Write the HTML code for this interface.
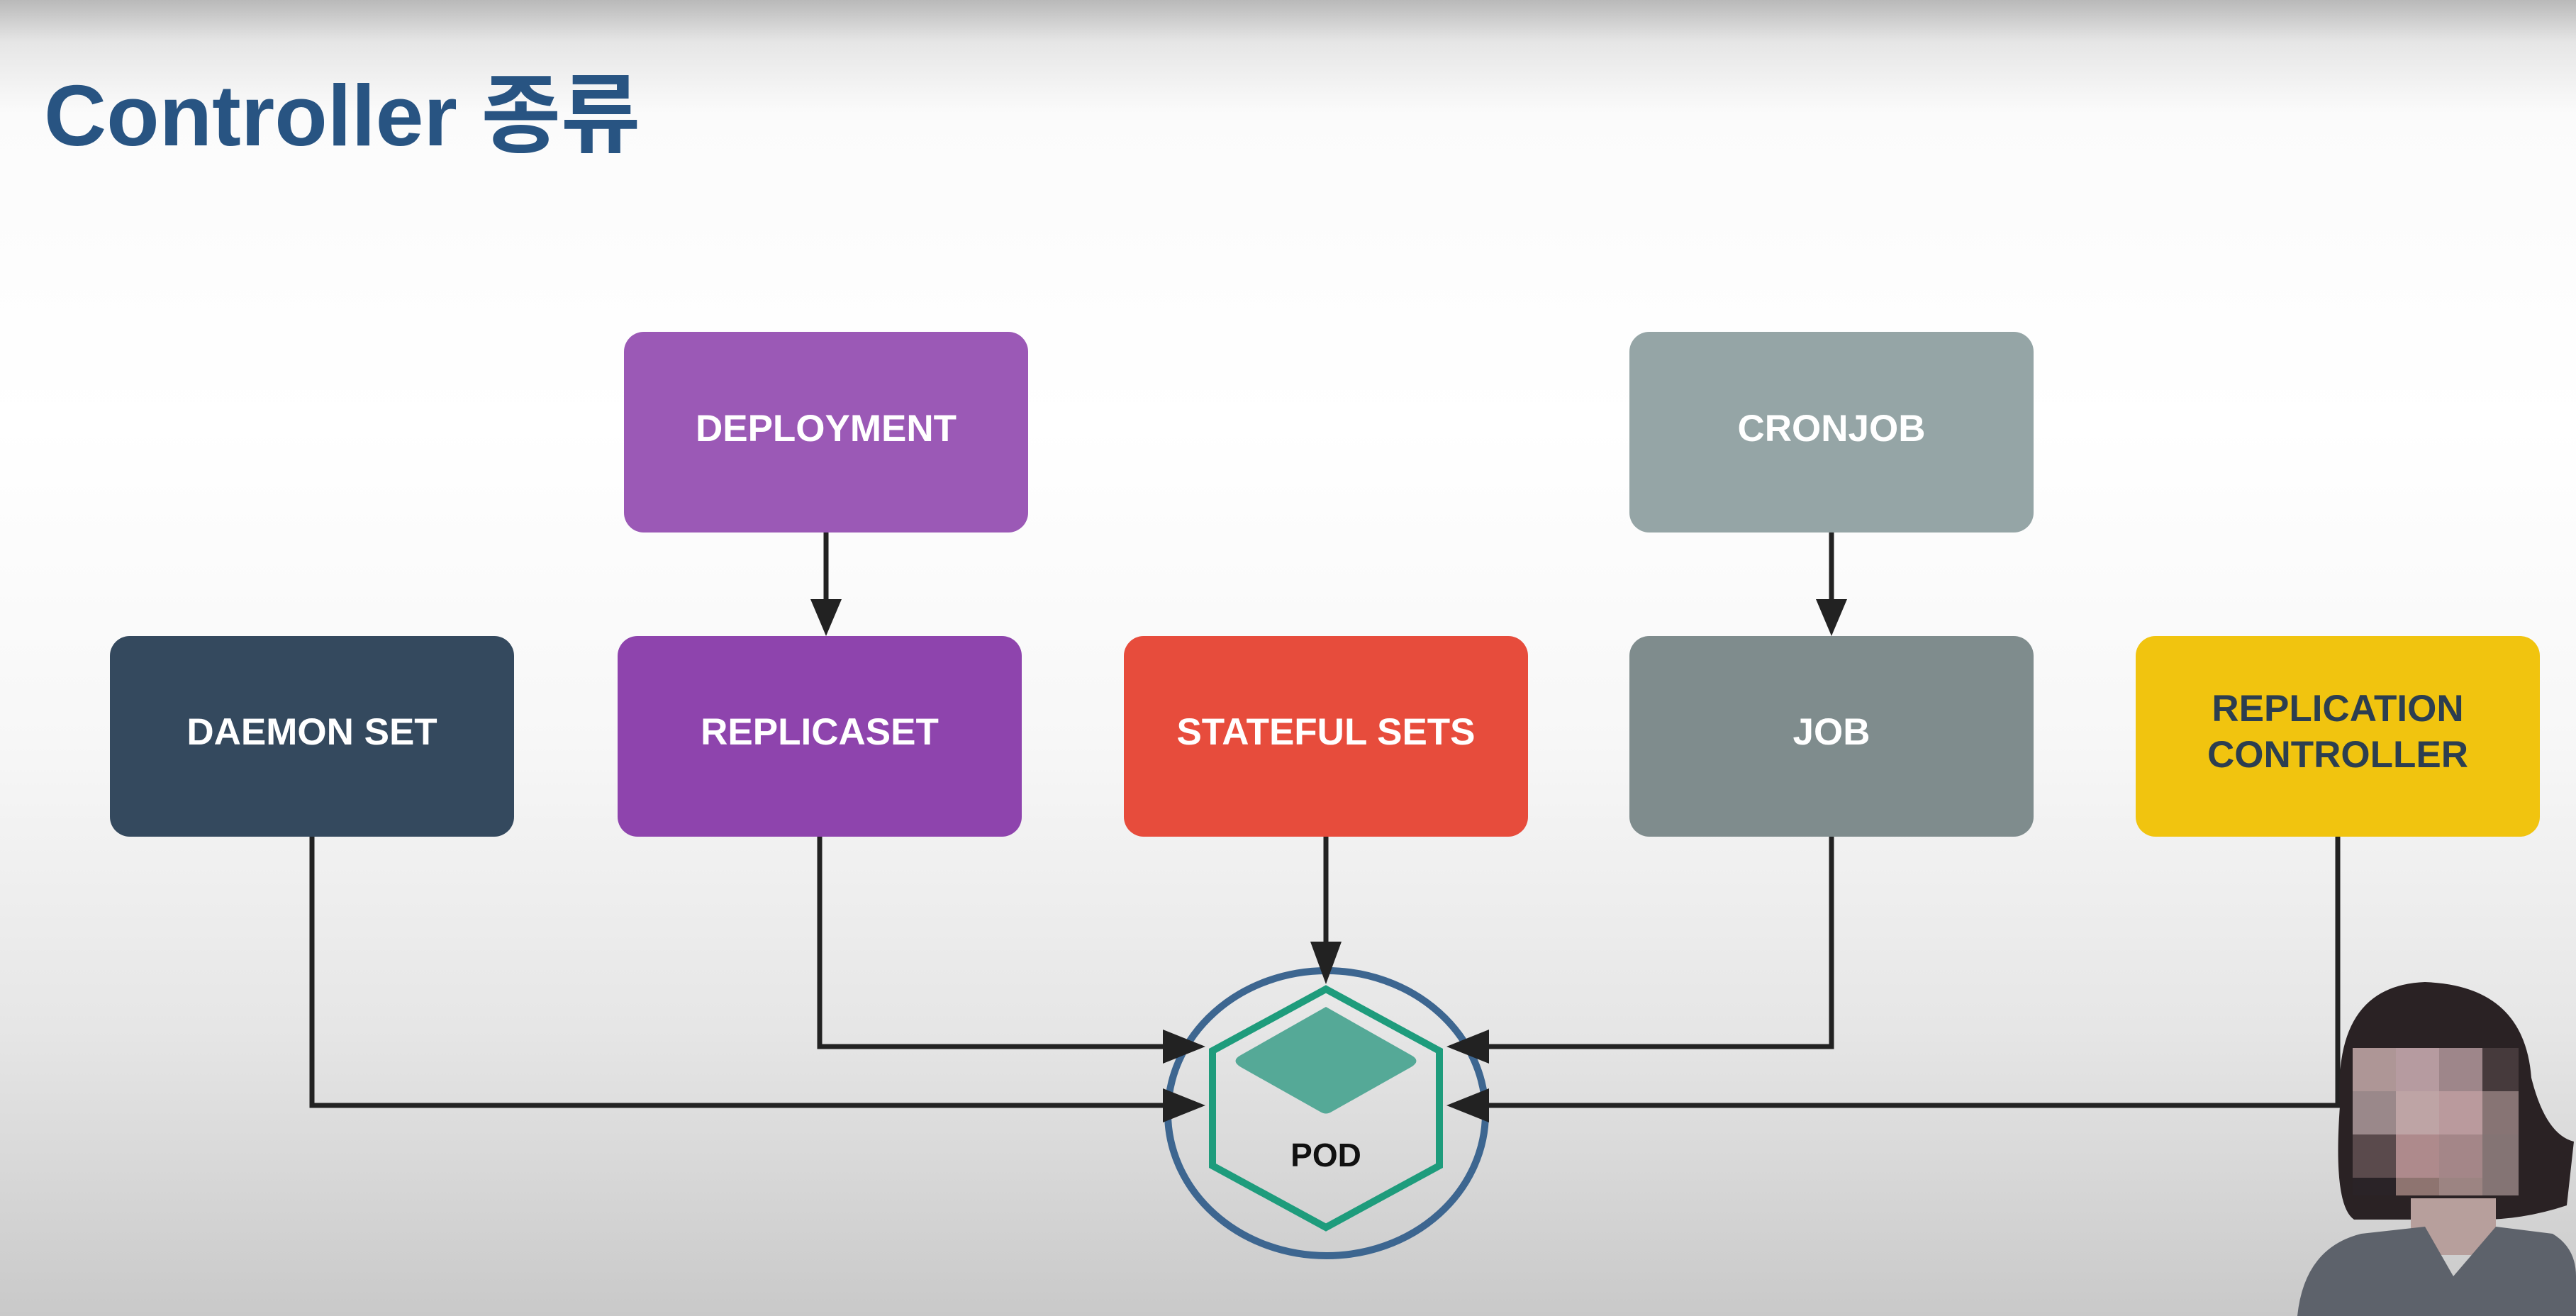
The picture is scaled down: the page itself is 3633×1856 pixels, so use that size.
<!DOCTYPE html>
<html><head><meta charset="utf-8"><style>
html,body{margin:0;padding:0;width:3633px;height:1856px;overflow:hidden}
body{background:linear-gradient(to bottom,#b9b9b9 0px,#e6e6e6 60px,#fbfbfb 160px,#ffffff 600px,#f7f7f7 1050px,#e6e6e6 1450px,#c9c9c9 1856px)}
svg{position:absolute;left:0;top:0}
</style></head><body>
<svg width="3633" height="1856" viewBox="0 0 3633 1856" xmlns="http://www.w3.org/2000/svg">
<text x="62" y="205" font-family="Liberation Sans, 'Noto Sans CJK KR', sans-serif" font-weight="bold" font-size="122" fill="#285482">Controller 종류</text>
<g font-family="Liberation Sans, sans-serif" font-weight="bold" font-size="53" text-anchor="middle" fill="#fff">
<rect x="880" y="468" width="570" height="283" rx="28" fill="#9b59b6"/>
<text x="1165" y="622">DEPLOYMENT</text>
<rect x="2298" y="468" width="570" height="283" rx="28" fill="#95a5a6"/>
<text x="2583" y="622">CRONJOB</text>
<rect x="155" y="897" width="570" height="283" rx="28" fill="#34495e"/>
<text x="440" y="1050">DAEMON SET</text>
<rect x="871" y="897" width="570" height="283" rx="28" fill="#8e44ad"/>
<text x="1156" y="1050">REPLICASET</text>
<rect x="1585" y="897" width="570" height="283" rx="28" fill="#e74c3c"/>
<text x="1870" y="1050">STATEFUL SETS</text>
<rect x="2298" y="897" width="570" height="283" rx="28" fill="#7f8c8d"/>
<text x="2583" y="1050">JOB</text>
<rect x="3012" y="897" width="570" height="283" rx="28" fill="#f1c40f"/>
<text x="3297" y="1017" fill="#2c3e50">REPLICATION</text>
<text x="3297" y="1082" fill="#2c3e50">CONTROLLER</text>
</g>
<g stroke="#222" stroke-width="7" fill="none">
<path d="M1165 751 V845"/>
<path d="M2583 751 V845"/>
<path d="M440 1180 V1559 H1650"/>
<path d="M1156 1180 V1476 H1650"/>
<path d="M1870 1180 V1330"/>
<path d="M2583 1180 V1476 H2090"/>
<path d="M3297 1180 V1559 H2090"/>
</g>
<ellipse cx="1871" cy="1570" rx="224" ry="201" fill="none" stroke="#3d6690" stroke-width="10"/>
<polygon points="1870,1395 2030,1482 2030,1644 1870,1731 1710,1644 1710,1482" fill="none" stroke="#1e9c7c" stroke-width="10"/>
<path d="M1870 1420 L1990 1488 Q2005 1496 1990 1505 L1878 1568 Q1870 1573 1862 1568 L1750 1505 Q1735 1496 1750 1488 Z" fill="#55a997"/>
<text x="1870" y="1645" font-family="Liberation Sans, sans-serif" font-weight="bold" font-size="46" text-anchor="middle" fill="#111">POD</text>
<g fill="#222">
<polygon points="1165,897 1143,845 1187,845"/>
<polygon points="2583,897 2561,845 2605,845"/>
<polygon points="1870,1388 1848,1328 1892,1328"/>
<polygon points="1700,1476 1640,1452 1640,1500"/>
<polygon points="1700,1559 1640,1535 1640,1583"/>
<polygon points="2040,1476 2100,1452 2100,1500"/>
<polygon points="2040,1559 2100,1535 2100,1583"/>
</g>
<!-- presenter -->
<path d="M3300 1560 Q3290 1390 3420 1385 Q3560 1390 3570 1520 Q3590 1600 3630 1610 L3620 1700 Q3560 1720 3500 1720 L3320 1720 Q3290 1700 3300 1560 Z" fill="#2a2224"/>
<rect x="3400" y="1690" width="120" height="80" fill="#b79f9c"/>
<path d="M3240 1856 Q3250 1760 3330 1740 L3420 1730 L3460 1800 L3520 1730 L3600 1740 Q3633 1760 3633 1800 L3633 1856 Z" fill="#5d626b"/>
<rect x="3318" y="1478" width="61" height="61" fill="#ae9696"/>
<rect x="3379" y="1478" width="61" height="61" fill="#b69ba0"/>
<rect x="3440" y="1478" width="61" height="61" fill="#9e868a"/>
<rect x="3501" y="1478" width="51" height="61" fill="#463a3c"/>
<rect x="3318" y="1539" width="61" height="61" fill="#9a888a"/>
<rect x="3379" y="1539" width="61" height="61" fill="#bea4a5"/>
<rect x="3440" y="1539" width="61" height="61" fill="#ba9a9d"/>
<rect x="3501" y="1539" width="51" height="61" fill="#877474"/>
<rect x="3318" y="1600" width="61" height="61" fill="#5a4a4c"/>
<rect x="3379" y="1600" width="61" height="61" fill="#ae8a8c"/>
<rect x="3440" y="1600" width="61" height="61" fill="#a48688"/>
<rect x="3501" y="1600" width="51" height="86" fill="#847474"/>
<rect x="3318" y="1661" width="61" height="25" fill="#2a2327"/>
<rect x="3379" y="1661" width="61" height="25" fill="#8e7470"/>
<rect x="3440" y="1661" width="61" height="25" fill="#9c8482"/>
</svg>
</body></html>
